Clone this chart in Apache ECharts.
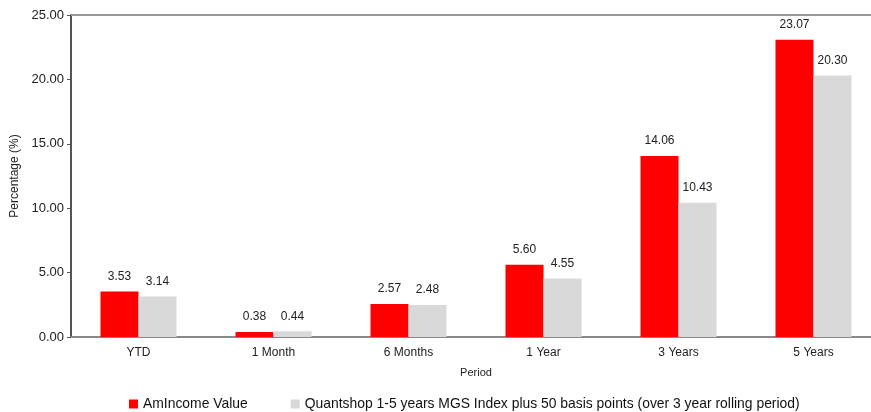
<!DOCTYPE html>
<html><head><meta charset="utf-8">
<script src="https://cdn.jsdelivr.net/npm/echarts@6/dist/echarts.min.js"></script>
<style>html,body{margin:0;padding:0;background:#fff}#c{width:871px;height:412px}</style>
</head><body><div id="c"></div>
<script>
const categories = ['YTD','1 Month','6 Months','1 Year','3 Years','5 Years'];
const amIncome = [3.53,0.38,2.57,5.60,14.06,23.07];
const quantshop = [3.14,0.44,2.48,4.55,10.43,20.30];
const seriesNames = ['AmIncome Value','Quantshop 1-5 years MGS Index plus 50 basis points (over 3 year rolling period)'];
const F = 'Liberation Sans, Arial, sans-serif';
const chart = echarts.init(document.getElementById('c'));
const lbl = {show:true, position:'top', distance:9, color:'#222', fontSize:12, fontFamily:F, formatter:p=>p.value.toFixed(2)};
chart.setOption({
  animation:false,
  grid:{left:71, right:-10, top:15, bottom:75, containLabel:false, outerBoundsMode:'none'},
  legend:{top:392, left:124, itemWidth:9, itemHeight:9, itemGap:43, icon:'rect',
    textStyle:{fontSize:13.9, fontFamily:F, color:'#111'}, data:seriesNames},
  xAxis:{type:'category', data:categories, name:'Period', nameLocation:'middle', nameGap:30,
    nameTextStyle:{fontSize:11, fontFamily:F, color:'#222'},
    axisLine:{lineStyle:{color:'#888', width:2}}, axisTick:{show:false},
    axisLabel:{fontSize:12, fontFamily:F, color:'#222', margin:10}},
  yAxis:{type:'value', min:0, max:25, interval:5, name:'Percentage (%)', nameLocation:'middle', nameGap:50,
    nameTextStyle:{fontSize:12, fontFamily:F, color:'#222'},
    axisLine:{show:true, lineStyle:{color:'#555', width:2}},
    axisTick:{show:true, length:4, lineStyle:{color:'#555'}},
    splitLine:{show:false},
    axisLabel:{fontSize:13, fontFamily:F, color:'#222', margin:7, formatter:v=>v.toFixed(2)}},
  series:[
    {name:seriesNames[0], type:'bar', data:amIncome, barWidth:38, barGap:'0%', itemStyle:{color:'#FF0000'}, label:lbl,
     markLine:{silent:true, symbol:'none', label:{show:false}, lineStyle:{color:'#999', width:2, type:'solid'}, data:[{yAxis:25}]}},
    {name:seriesNames[1], type:'bar', data:quantshop, barWidth:38, barGap:'0%', itemStyle:{color:'#D9D9D9'}, label:lbl}
  ]
});
</script></body></html>
